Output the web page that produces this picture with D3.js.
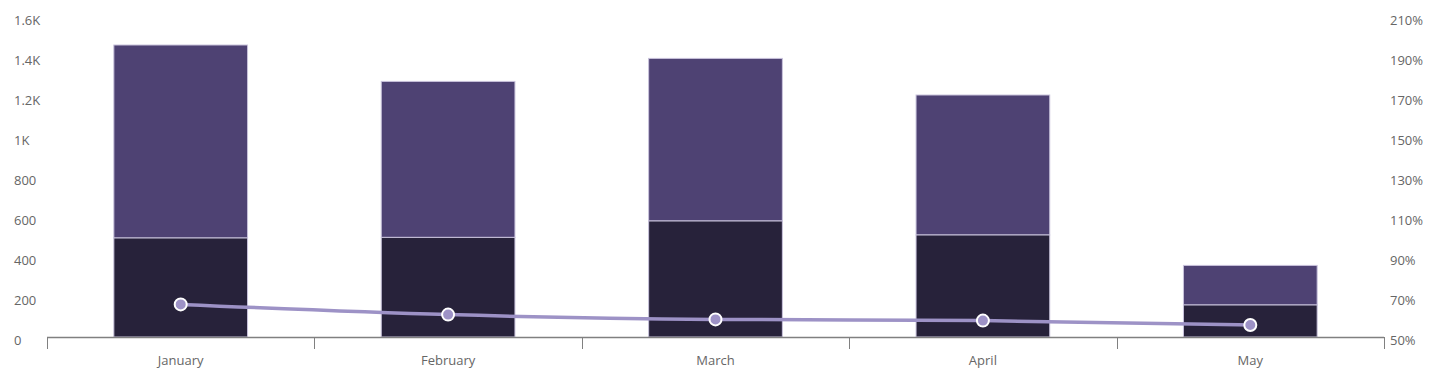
<!DOCTYPE html>
<html><head><meta charset="utf-8">
<script src="https://cdn.jsdelivr.net/npm/d3@7"></script>
<style>
html,body{margin:0;padding:0;background:#fff;}
text{font-family:"Open Sans",sans-serif;}
</style></head>
<body><svg id="c" width="1442" height="380"></svg>
<script>
const categories = ["January","February","March","April","May"];
const seriesBottom = [495, 498, 580, 510, 160];
const seriesTop = [965, 780, 813, 700, 198];
const linePct = [66.3, 61.2, 58.8, 58.2, 56];
const leftTicks = [0,200,400,600,800,1000,1200,1400,1600];
const leftTickLabels = ["0","200","400","600","800","1K","1.2K","1.4K","1.6K"];
const rightTicks = [50,70,90,110,130,150,170,190,210];

const svg = d3.select("#c");
const x0 = 47, x1 = 1384, yB = 337, yT = 17;
const x = d3.scaleBand().domain(categories).range([x0,x1]).paddingInner(0).paddingOuter(0);
const y = d3.scaleLinear().domain([0,1600]).range([yB,yT]);
const y2 = d3.scaleLinear().domain([50,210]).range([yB,yT]);
const bw = x.bandwidth()*0.5;

// left axis labels
svg.append("g").selectAll("text").data(leftTicks).join("text")
  .attr("x",14).attr("y",d=>y(d)+3).attr("dy","0.35em")
  .attr("fill","#666").attr("font-size",13).text((d,i)=>leftTickLabels[i]);
// right axis labels
svg.append("g").selectAll("text").data(rightTicks).join("text")
  .attr("x",1390).attr("y",d=>y2(d)+3).attr("dy","0.35em")
  .attr("fill","#666").attr("font-size",13).text(d=>d+"%");

// bars
const g = svg.append("g");
categories.forEach((c,i)=>{
  const cx = x(c)+x.bandwidth()/2;
  const b = seriesBottom[i], t = seriesTop[i];
  g.append("rect").attr("x",cx-bw/2).attr("y",y(b+t)).attr("width",bw).attr("height",y(b)-y(b+t))
    .attr("fill","#4e4273").attr("stroke","#c9c3dc").attr("stroke-width",1);
  g.append("rect").attr("x",cx-bw/2).attr("y",y(b)).attr("width",bw).attr("height",y(0)-y(b))
    .attr("fill","#27223a").attr("stroke","#c9c3dc").attr("stroke-width",1);
});

// bottom axis
const ax = svg.append("g");
ax.append("line").attr("x1",x0).attr("x2",x1).attr("y1",yB+0.5).attr("y2",yB+0.5).attr("stroke","#808080").attr("stroke-width",1.5);
const edges = categories.map(c=>x(c)).concat([x1]);
ax.selectAll("line.t").data(edges).join("line").attr("class","t")
  .attr("x1",d=>Math.round(d)+0.5).attr("x2",d=>Math.round(d)+0.5).attr("y1",yB).attr("y2",yB+12)
  .attr("stroke","#808080").attr("stroke-width",1);
ax.selectAll("text").data(categories).join("text")
  .attr("x",d=>x(d)+x.bandwidth()/2).attr("y",360).attr("dy","0.35em")
  .attr("text-anchor","middle").attr("fill","#666").attr("font-size",13).text(d=>d);

// line
const pts = categories.map((c,i)=>[x(c)+x.bandwidth()/2, y2(linePct[i])]);
svg.append("path").attr("d",d3.line().curve(d3.curveMonotoneX)(pts))
  .attr("fill","none").attr("stroke","#9d92c6").attr("stroke-width",3.5);
svg.append("g").selectAll("circle").data(pts).join("circle")
  .attr("cx",d=>d[0]).attr("cy",d=>d[1]).attr("r",6)
  .attr("fill","#9d92c6").attr("stroke","#fff").attr("stroke-width",2);
</script></body></html>
